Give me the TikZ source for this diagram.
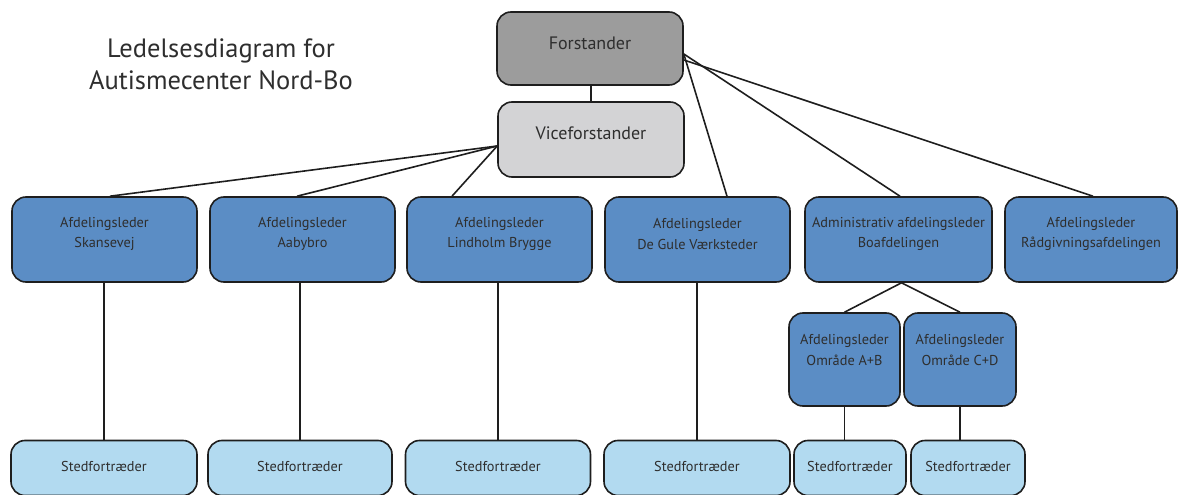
\documentclass[tikz,border=0pt]{standalone}
\usepackage{fontspec}
\setmainfont{PT Sans}
\definecolor{topgray}{HTML}{9C9C9C}
\definecolor{vicegray}{HTML}{D3D3D5}
\definecolor{midblue}{HTML}{5B8DC5}
\definecolor{lightblue}{HTML}{B2DAF0}
\definecolor{txt}{HTML}{2E2E2E}
\definecolor{edge}{HTML}{1E1E1E}
\tikzset{
  box/.style={draw=edge, line width=1.6pt, rounded corners=14pt, inner sep=0pt},
  topbox/.style={box, fill=topgray},
  vicebox/.style={box, fill=vicegray},
  leadbox/.style={box, fill=midblue},
  subbox/.style={box, fill=lightblue},
  lbl/.style={text=txt, align=center, font=\fontsize{14.3}{20.5}\selectfont},
  biglbl/.style={text=txt, align=center, font=\fontsize{18}{24}\selectfont},
  conn/.style={draw=edge, line width=1.6pt},
}
\begin{document}
\begin{tikzpicture}[x=1pt,y=-1pt]
\useasboundingbox (0,0) rectangle (1179,495);
% title
\node[text=txt, align=center, font=\fontsize{26.5}{32}\selectfont] (title) at (221,64) {Ledelsesdiagram for\\Autismecenter Nord-Bo};
% top
\node[topbox, minimum width=186pt, minimum height=73pt] (F) at (590,48.5) {};
\node[biglbl] (Ft) at (590,43) {Forstander};
\node[vicebox, minimum width=186pt, minimum height=75pt] (V) at (591,139.5) {};
\node[biglbl] (Vt) at (591,133) {Viceforstander};
% row 2
\foreach \n/\cx/\w in {S1/104.5/185, S2/302.5/185, S3/499.5/185, S4/697.5/185, S5/898.5/187, S6/1091/172}{
  \node[leadbox, minimum width=\w pt, minimum height=85pt] (\n) at (\cx,239.5) {};
}
\node[lbl] (S1t) at (104.5,234) {Afdelingsleder\\Skansevej};
\node[lbl] (S2t) at (302.5,234) {Afdelingsleder\\Aabybro};
\node[lbl] (S3t) at (499.5,234) {Afdelingsleder\\Lindholm Brygge};
\node[lbl] (S4t) at (697.5,234) {Afdelingsleder\\De Gule Værksteder};
\node[lbl] (S5t) at (898.5,234) {Administrativ afdelingsleder\\Boafdelingen};
\node[lbl] (S6t) at (1091,234) {Afdelingsleder\\Rådgivningsafdelingen};
% sub
\node[leadbox, minimum width=111pt, minimum height=93pt] (A) at (844.5,359.5) {};
\node[lbl] (At) at (844.5,350) {Afdelingsleder\\Område A+B};
\node[leadbox, minimum width=112pt, minimum height=93pt] (C) at (960,359.5) {};
\node[lbl] (Ct) at (960,350) {Afdelingsleder\\Område C+D};
% bottom
\foreach \n/\cx/\w in {B1/104/186, B2/300/184, B3/498/185, B4/697/186, B5/850/112, B6/968/114}{
  \node[subbox, minimum width=\w pt, minimum height=55pt] (\n) at (\cx,468) {};
  \node[lbl] (\n t) at (\cx,466) {Stedfortræder};
}
% connectors
\draw[conn] (F.south -| V.north) -- (V.north);
\coordinate (vj) at ([yshift=-6.5pt]V.west);
\coordinate (fj1) at ([yshift=-11.5pt]F.east);
\coordinate (fj2) at ([yshift=-5.5pt]F.east);
\draw[conn] (vj) -- ([xshift=5.5pt]S1.north);
\draw[conn] (vj) -- ([xshift=-5.5pt]S2.north);
\draw[conn] (vj) -- ([xshift=-47.5pt]S3.north);
\draw[conn] (fj2) -- ([xshift=29.5pt]S4.north);
\draw[conn] (fj2) -- ([xshift=1.5pt]S5.north);
\draw[conn] (fj1) -- ([xshift=2pt]S6.north);
\draw[conn] ([xshift=3pt]S5.south) -- (A.north);
\draw[conn] ([xshift=3pt]S5.south) -- (C.north);
\draw[conn] (S1.south -| B1.north) -- (B1.north);
\draw[conn] (S2.south -| B2.north) -- (B2.north);
\draw[conn] (S3.south -| B3.north) -- (B3.north);
\draw[conn] (S4.south -| B4.north) -- (B4.north);
\draw[conn] (A.south) -- (A.south |- B5.north);
\draw[conn] (C.south) -- (C.south |- B6.north);
\end{tikzpicture}
\end{document}
